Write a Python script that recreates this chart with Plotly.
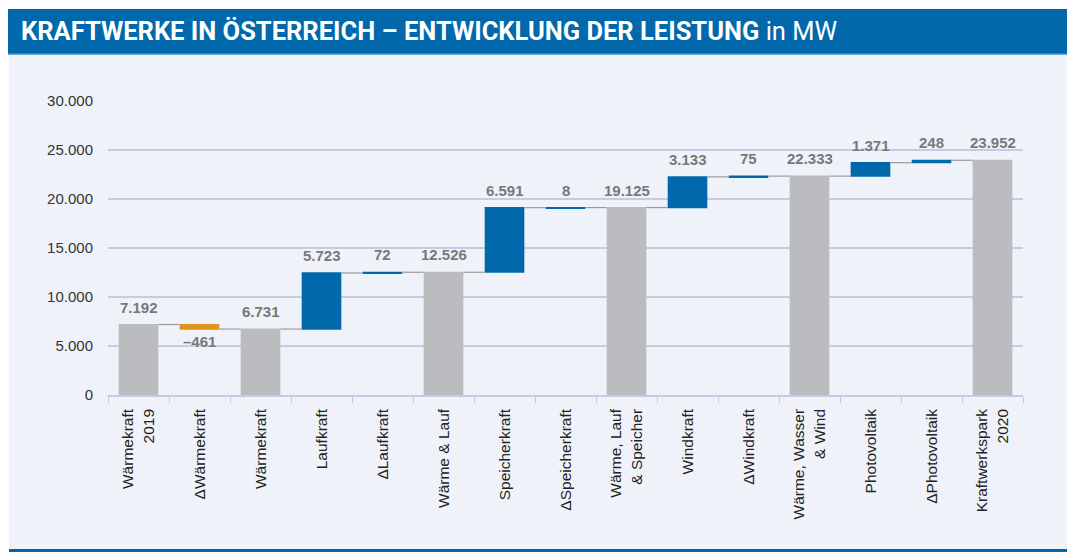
import plotly.graph_objects as go

# Installed capacity of Austrian power plants, MW
categories = [
    "Wärmekraft<br>2019", "ΔWärmekraft", "Wärmekraft", "Laufkraft", "ΔLaufkraft",
    "Wärme & Lauf", "Speicherkraft", "ΔSpeicherkraft", "Wärme, Lauf<br>& Speicher",
    "Windkraft", "ΔWindkraft", "Wärme, Wasser<br>& Wind", "Photovoltaik",
    "ΔPhotovoltaik", "Kraftwerkspark<br>2020",
]
measures = [
    "absolute", "relative", "total", "relative", "relative",
    "total", "relative", "relative", "total",
    "relative", "relative", "total", "relative",
    "relative", "total",
]
values = [7192, -461, 6731, 5723, 72, 12526, 6591, 8, 19125, 3133, 75, 22333, 1371, 248, 23952]
y_ticks = [0, 5000, 10000, 15000, 20000, 25000, 30000]

BLUE = "#0068ab"
GREY = "#bbbcc0"
ORANGE = "#e0951a"
CARD = "#eff3f9"
GRID = "#c3cce0"
LABEL = "#77787a"


def fmt(v):
    s = f"{abs(v):,}".replace(",", ".")
    return ("–" if v < 0 else "") + s


plot_values = [v if m != "total" else 0 for v, m in zip(values, measures)]

fig = go.Figure(go.Waterfall(
    x=categories,
    y=plot_values,
    measure=measures,
    cliponaxis=False,
    increasing=dict(marker=dict(color=BLUE)),
    decreasing=dict(marker=dict(color=ORANGE)),
    totals=dict(marker=dict(color=GREY)),
    connector=dict(mode="between", line=dict(color="#9a9a9c", width=1.2)),
    width=0.65,
    hoverinfo="skip",
))

# value labels: above the top of rising/total bars, below falling bars
annotations = []
running = 0
for cat, v, m in zip(categories, values, measures):
    if m in ("absolute", "total"):
        running = v
        top, below = v, False
    else:
        start = running
        running += v
        top, below = (start + v, True) if v < 0 else (running, False)
    annotations.append(dict(
        x=cat, y=top, xref="x", yref="y", text=f"<b>{fmt(v)}</b>", showarrow=False,
        yanchor="top" if below else "bottom", yshift=-2 if below else 7,
        font=dict(family="Liberation Sans", size=15, color=LABEL),
    ))

W, H = 1073, 552
L, R, T, B = 108, 1023, 101, 395


def px(x):
    return (x - L) / (R - L)


def py(y):
    return (B - y) / (B - T)


shapes = [
    # card background
    dict(type="rect", xref="paper", yref="paper", x0=px(9), x1=px(1067),
         y0=py(549), y1=py(55), fillcolor=CARD, line_width=0, layer="below"),
    # header band
    dict(type="rect", xref="paper", yref="paper", x0=px(8), x1=px(1067),
         y0=py(54), y1=py(9), fillcolor=BLUE, line_width=0, layer="below"),
    dict(type="rect", xref="paper", yref="paper", x0=px(8), x1=px(1067),
         y0=py(55), y1=py(53.5), fillcolor="#6aa7d4", line_width=0, layer="below"),
    # bottom rule
    dict(type="rect", xref="paper", yref="paper", x0=px(9), x1=px(1067),
         y0=py(552), y1=py(549), fillcolor=BLUE, line_width=0, layer="below"),
]

annotations.append(dict(
    xref="paper", yref="paper", x=px(19), y=py(31), xanchor="left", yanchor="middle",
    text="<b>KRAFTWERKE IN ÖSTERREICH – ENTWICKLUNG DER LEISTUNG</b> in MW",
    showarrow=False, font=dict(family="Roboto", size=25.5, color="white"),
))

fig.update_layout(
    width=W, height=H,
    margin=dict(l=L, r=W - R, t=T, b=H - B),
    paper_bgcolor="white",
    plot_bgcolor="rgba(0,0,0,0)",
    separators=",.",
    showlegend=False,
    shapes=shapes,
    annotations=annotations,
    xaxis=dict(
        tickangle=-90,
        tickfont=dict(family="Liberation Sans", size=15.5, color="#222222"),
        ticks="outside", tickson="boundaries", ticklen=6, tickcolor=GRID,
        showline=True, linecolor=GRID, linewidth=1.5,
        showgrid=False, ticklabelstandoff=6,
    ),
    yaxis=dict(
        range=[0, 30000],
        tickvals=y_ticks,
        tickformat=",.0f",
        tickfont=dict(family="Liberation Sans", size=15, color="#333333"),
        gridcolor=GRID, gridwidth=1.5,
        zeroline=False,
        ticks="", ticklabelstandoff=14,
    ),
)

fig.write_html("out.html")
